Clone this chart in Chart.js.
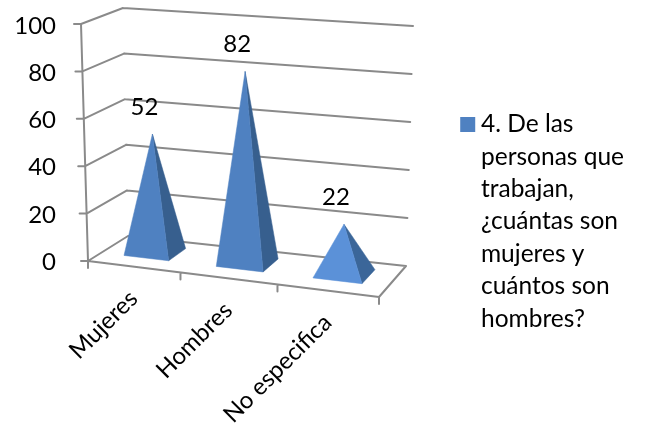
<!DOCTYPE html>
<html>
<head>
<meta charset="utf-8">
<script src="https://cdn.jsdelivr.net/npm/chart.js@4/dist/chart.umd.min.js"></script>
<style>
  html, body { margin: 0; padding: 0; background: #fff; }
  #wrap { width: 645px; height: 428px; }
</style>
</head>
<body>
<div id="wrap"><canvas id="graph"></canvas></div>
<script>
var categories = ['Mujeres', 'Hombres', 'No especifica'];
var values = [52, 82, 22];
var seriesName = ['4. De las', 'personas que', 'trabajan,', '¿cuántas son', 'mujeres y', 'cuántos son', 'hombres?'];
var yTicks = [0, 20, 40, 60, 80, 100];
var frontColors = ['#4f81c1', '#4f81c1', '#5b91d8'];
var sideColors = ['#375f8e', '#375f8e', '#3b6699'];

var fontName = 'Lato, "Open Sans", sans-serif';
var gridColor = '#8a8a8a';

// corners of the 3d box as they land on the page
var floorBox = { fl: [88, 261], fr: [379, 297], bl: [128, 236], br: [406, 266] };
var roofBox = { fl: [81, 24], fr: [372, 49], bl: [123, 8], br: [413, 26] };
var depthFront = 0.33;
var depthBack = 0.79;
var apexDrop = 3.5;

function mix(a, b, t) {
  return [a[0] + (b[0] - a[0]) * t, a[1] + (b[1] - a[1]) * t];
}

function onPlane(box, u, d) {
  return mix(mix(box.fl, box.fr, u), mix(box.bl, box.br, u), d);
}

// u along the categories, d into the page, v up the value axis (all 0..1)
function project(u, d, v) {
  var warped = u - 0.07 * u * (1 - u);
  return mix(onPlane(floorBox, warped, d), onPlane(roofBox, warped, d), v);
}

function apexOf(bar, area) {
  var u = (bar.x - area.left) / (area.right - area.left);
  var v = (bar.base - bar.y) / (area.bottom - area.top);
  var p = project(u, (depthFront + depthBack) / 2, v);
  return [p[0], p[1] + apexDrop];
}

function fillFace(ctx, points, color) {
  ctx.beginPath();
  ctx.moveTo(points[0][0], points[0][1]);
  for (var i = 1; i < points.length; i++) {
    ctx.lineTo(points[i][0], points[i][1]);
  }
  ctx.closePath();
  ctx.fillStyle = color;
  ctx.strokeStyle = color;
  ctx.lineWidth = 0.5;
  ctx.fill();
  ctx.stroke();
}

class PyramidElement extends Chart.BarElement {
  draw(ctx) {
    var area = this.$context.chart.chartArea;
    var w = area.right - area.left;
    var u0 = (this.x - this.width / 2 - area.left) / w;
    var u1 = (this.x + this.width / 2 - area.left) / w;
    var apex = apexOf(this, area);
    var frontLeft = project(u0, depthFront, 0);
    var frontRight = project(u1, depthFront, 0);
    var backRight = project(u1, depthBack, 0);

    ctx.save();
    fillFace(ctx, [frontRight, backRight, apex], sideColors[this.$context.dataIndex]);
    fillFace(ctx, [frontLeft, frontRight, apex], this.options.backgroundColor);
    ctx.restore();
  }
}
PyramidElement.id = 'pyramid';

class PyramidController extends Chart.BarController {}
PyramidController.id = 'pyramid';
PyramidController.defaults = Object.assign({}, Chart.BarController.defaults, { dataElementType: 'pyramid' });
PyramidController.overrides = Chart.BarController.overrides;

Chart.register(PyramidElement, PyramidController);

function line(ctx, a, b) {
  ctx.moveTo(a[0], a[1]);
  ctx.lineTo(b[0], b[1]);
}

var boxPlugin = {
  id: 'box',
  beforeDatasetsDraw: function (chart) {
    var ctx = chart.ctx;
    var area = chart.chartArea;
    var yScale = chart.scales.y;

    ctx.save();
    ctx.strokeStyle = gridColor;
    ctx.lineWidth = 2;
    ctx.lineCap = 'round';
    ctx.beginPath();

    // gridlines run along the left wall and then the back wall
    yScale.ticks.forEach(function (tick) {
      var v = (area.bottom - yScale.getPixelForValue(tick.value)) / (area.bottom - area.top);
      var front = project(0, 0, v);
      line(ctx, [front[0] - 7, front[1]], front);
      line(ctx, front, project(0, 1, v));
      line(ctx, project(0, 1, v), project(1, 1, v));
    });

    // value axis, floor outline and category ticks
    line(ctx, project(0, 0, 0), project(0, 0, 1));
    line(ctx, project(0, 0, 0), project(1, 0, 0));
    line(ctx, project(1, 0, 0), project(1, 1, 0));
    for (var i = 0; i <= categories.length; i++) {
      var p = project(i / categories.length, 0, 0);
      line(ctx, p, [p[0], p[1] + 7]);
    }
    ctx.stroke();
    ctx.restore();
  },
  afterDatasetsDraw: function (chart) {
    var ctx = chart.ctx;
    var area = chart.chartArea;
    var xScale = chart.scales.x;
    var w = area.right - area.left;

    ctx.save();
    ctx.fillStyle = '#000';
    ctx.font = '24px ' + fontName;

    // category labels hang off the slanted front edge
    categories.forEach(function (name, i) {
      var u = (xScale.getPixelForValue(i) - area.left) / w;
      var p = project(u, 0, 0);
      ctx.save();
      ctx.translate(p[0], p[1] + 28);
      ctx.rotate(-Math.PI / 4);
      ctx.textAlign = 'right';
      ctx.textBaseline = 'middle';
      ctx.fillText(name, 0, 0);
      ctx.restore();
    });

    // value labels sit above each apex
    ctx.textAlign = 'center';
    ctx.textBaseline = 'middle';
    chart.getDatasetMeta(0).data.forEach(function (bar, i) {
      var apex = apexOf(bar, area);
      ctx.fillText(values[i], apex[0] - 8, apex[1] - 27);
    });
    ctx.restore();
  }
};

new Chart(document.getElementById('graph'), {
  type: 'pyramid',
  data: {
    labels: categories,
    datasets: [
      {
        label: seriesName.join(' '),
        data: values,
        backgroundColor: frontColors,
        barPercentage: 0.49,
        categoryPercentage: 1,
        clip: false
      }
    ]
  },
  options: {
    responsive: true,
    maintainAspectRatio: false,
    animation: false,
    layout: { padding: { top: 26, bottom: 3, right: 17 } },
    scales: {
      x: {
        type: 'category',
        grid: { display: false },
        border: { display: false },
        ticks: { display: false },
        afterFit: function (scale) { scale.height = 163; }
      },
      y: {
        type: 'linear',
        min: yTicks[0],
        max: yTicks[yTicks.length - 1],
        grid: { display: false },
        border: { display: false },
        afterFit: function (scale) { scale.width = 72; },
        ticks: {
          stepSize: 20,
          padding: 8,
          color: '#000',
          font: { family: fontName, size: 24 }
        }
      }
    },
    plugins: {
      tooltip: { enabled: false },
      legend: {
        position: 'right',
        maxWidth: 200,
        labels: {
          color: '#000',
          usePointStyle: true,
          boxWidth: 2,
          boxHeight: 15,
          font: { family: fontName, size: 24.5, lineHeight: 1.32 },
          generateLabels: function () {
            return [{
              text: seriesName,
              fillStyle: frontColors[0],
              strokeStyle: frontColors[0],
              lineWidth: 0,
              pointStyle: 'rect',
              datasetIndex: 0
            }];
          }
        }
      }
    }
  },
  plugins: [boxPlugin]
});
</script>
</body>
</html>
